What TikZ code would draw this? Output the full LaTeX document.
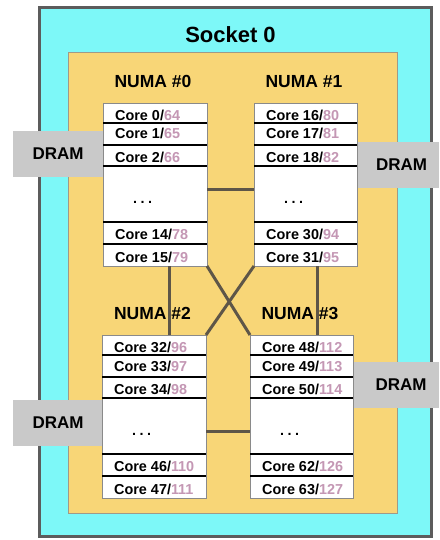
\documentclass[tikz,border=0pt]{standalone}
\usepackage{fontspec}
\setmainfont{Liberation Sans}
\usetikzlibrary{calc}
\definecolor{sockc}{HTML}{7DF8F8}
\definecolor{sockb}{HTML}{5C5C5C}
\definecolor{numac}{HTML}{F8D677}
\definecolor{numab}{HTML}{A09A88}
\definecolor{dramc}{HTML}{C9C9C9}
\definecolor{pinkc}{HTML}{C497B4}
\definecolor{linkc}{HTML}{5E5648}
\definecolor{boxb}{HTML}{8A8A8A}
\tikzset{
  corebox/.style={draw=boxb, line width=0.9pt, fill=white, inner sep=0pt, outer sep=0pt, minimum height=163pt, anchor=north west},
  sepline/.style={draw=black, line width=2pt},
  coretext/.style={anchor=base west, inner sep=0pt, font=\fontsize{14.4}{16}\selectfont\bfseries},
  dotstext/.style={anchor=base west, inner sep=0pt, font=\fontsize{14.4}{16}\selectfont\bfseries},
  numalabel/.style={inner sep=0pt, font=\fontsize{17.5}{20}\selectfont\bfseries},
  titlelabel/.style={inner sep=0pt, font=\fontsize{22}{26}\selectfont\bfseries},
  dram/.style={fill=dramc, draw=none, minimum height=46pt, inner sep=0pt, font=\fontsize{17}{20}\selectfont\bfseries},
  link/.style={draw=linkc, line width=3pt},
}
\newcommand\numabox[5]{%
  \node[corebox, minimum width=#4pt] (#1) at (#2,#3) {};
  \foreach \d in {20,42,63,119,141}{\draw[sepline] (#1.north west) ++(0,\d) -- ++(#4,0);}
  \path (#1.north west) ++(12,17.5) node[coretext] (#1ra) {Core \the\numexpr#5\relax/\textcolor{pinkc}{\the\numexpr#5+64\relax}};
  \path (#1.north west) ++(12,36) node[coretext] (#1rb) {Core \the\numexpr#5+1\relax/\textcolor{pinkc}{\the\numexpr#5+65\relax}};
  \path (#1.north west) ++(12,59) node[coretext] (#1rc) {Core \the\numexpr#5+2\relax/\textcolor{pinkc}{\the\numexpr#5+66\relax}};
  \path (#1.north west) ++(30,100) node[dotstext] (#1rd) {.\hspace{3.5pt}.\hspace{3.5pt}.};
  \path (#1.north west) ++(12,136) node[coretext] (#1re) {Core \the\numexpr#5+14\relax/\textcolor{pinkc}{\the\numexpr#5+78\relax}};
  \path (#1.north west) ++(12,159) node[coretext] (#1rf) {Core \the\numexpr#5+15\relax/\textcolor{pinkc}{\the\numexpr#5+79\relax}};
}
\begin{document}
\begin{tikzpicture}[x=1pt,y=-1pt]
\useasboundingbox (0,0) rectangle (439,540);
\path[fill=sockc, draw=sockb, line width=3pt] (39,8) rectangle (431,536);
\path[fill=numac, draw=numab, line width=0.8pt] (68,52) rectangle (397,513);
\node[titlelabel] (title) at (230.5,34.5) {Socket 0};
\node[numalabel] (l0) at (153,81.5) {NUMA \#0};
\node[numalabel] (l1) at (304,81.5) {NUMA \#1};
\node[numalabel] (l2) at (152.5,313) {NUMA \#2};
\node[numalabel] (l3) at (300,313) {NUMA \#3};
% DRAM
\node[dram, minimum width=90pt] (d0) at (58,154) {DRAM};
\node[dram, minimum width=81pt] (d1) at (398.5,165) {\hspace*{6pt}DRAM};
\node[dram, minimum width=90pt] (d2) at (58,423) {DRAM};
\node[dram, minimum width=86pt] (d3) at (396,385) {\hspace*{10pt}DRAM};
% NUMA boxes
\numabox{na}{103}{103}{104}{0}
\numabox{nb}{254}{103}{103}{16}
\numabox{nc}{102}{335}{104}{32}
\numabox{nd}{250}{335}{103}{48}
% connectors
\draw[link] ([yshift=-4.5pt]na.east) -- ([yshift=-4.5pt]nb.west);
\draw[link] ([yshift=-15pt]nc.east) -- ([yshift=-15pt]nd.west);
\draw[link] ([xshift=14pt]na.south) -- ([xshift=14pt]na.south |- nc.north);
\draw[link] ([xshift=11.5pt]nb.south) -- ([xshift=11.5pt]nb.south |- nd.north);
\draw[link] (na.south east) -- (nd.north west);
\draw[link] (nb.south west) -- (nc.north east);
\end{tikzpicture}
\end{document}
